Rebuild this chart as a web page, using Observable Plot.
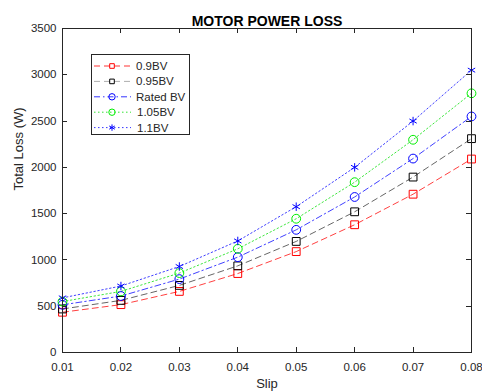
<!DOCTYPE html>
<html>
<head>
<meta charset="utf-8">
<script src="https://cdn.jsdelivr.net/npm/d3@7"></script>
<script src="https://cdn.jsdelivr.net/npm/@observablehq/plot@0.6"></script>
<style>
  html, body { margin: 0; padding: 0; background: white; }
  #chart { width: 482px; height: 392px; }
</style>
</head>
<body>
<div id="chart"></div>
<script>
const slip = [0.01, 0.02, 0.03, 0.04, 0.05, 0.06, 0.07, 0.08];
const loss09 = [435, 517, 660, 853, 1090, 1380, 1710, 2090];
const loss095 = [470, 563, 725, 936, 1200, 1520, 1895, 2310];
const lossRated = [515, 610, 793, 1030, 1325, 1680, 2095, 2550];
const loss105 = [550, 660, 858, 1120, 1445, 1840, 2298, 2800];
const loss11 = [590, 718, 929, 1205, 1575, 2000, 2500, 3050];
const seriesNames = ["0.9BV", "0.95BV", "Rated BV", "1.05BV", "1.1BV"];
const xTicks = [0.01, 0.02, 0.03, 0.04, 0.05, 0.06, 0.07, 0.08];
const yTicks = [0, 500, 1000, 1500, 2000, 2500, 3000, 3500];

const styles = [
  {line: "#ff0000", marker: "#ff0000", dash: "6,4", symbol: "square"},
  {line: "#333333", marker: "#000000", dash: "6,4", symbol: "square"},
  {line: "#0000ff", marker: "#0000ff", dash: "6,3,1.5,3", symbol: "circle"},
  {line: "#00dd00", marker: "#00ee00", dash: "1.5,2.5", symbol: "circle"},
  {line: "#0000ff", marker: "#0000ff", dash: "1.5,2.5", symbol: "asterisk"}
];
const allSeries = [loss09, loss095, lossRated, loss105, loss11];
const rows = allSeries.map((vals, i) => slip.map((s, j) => ({slip: s, loss: vals[j], series: seriesNames[i]})));

const ink = "#262626";
const marks = [];
rows.forEach((data, i) => {
  const st = styles[i];
  marks.push(Plot.line(data, {x: "slip", y: "loss", stroke: st.line, strokeWidth: 1, strokeOpacity: 0.75, strokeDasharray: st.dash}));
});
rows.forEach((data, i) => {
  const st = styles[i];
  marks.push(Plot.dot(data, {x: "slip", y: "loss", symbol: () => st.symbol, stroke: st.marker, fill: "none", strokeWidth: 1, r: st.symbol === "asterisk" ? 4 : 4.4}));
});

const chart = Plot.plot({
  width: 482,
  height: 392,
  marginLeft: 62,
  marginRight: 11,
  marginTop: 28,
  marginBottom: 40,
  style: {fontFamily: "'Liberation Sans', Arial, sans-serif", fontSize: "11.5px", color: ink, background: "white"},
  x: {domain: [0.01, 0.08], ticks: xTicks},
  y: {domain: [0, 3500], ticks: yTicks},
  symbol: {type: "identity"},
  marks: [
    Plot.axisX({ticks: xTicks, tickSize: 0, tickPadding: 10, tickFormat: d => d.toFixed(2), label: null, fill: ink}),
    Plot.axisY({ticks: yTicks, tickSize: 0, tickPadding: 6, tickFormat: d => String(d), label: null, fill: ink}),
    ...marks,
    Plot.frame({stroke: ink, strokeWidth: 1}),
    Plot.text(["MOTOR POWER LOSS"], {frameAnchor: "top", dy: -3, lineAnchor: "bottom", fontWeight: "bold", fontSize: 14, fill: "#000"}),
    Plot.text(["Slip"], {frameAnchor: "bottom", dy: 31, lineAnchor: "middle", fontSize: 13, fill: ink}),
    Plot.text(["Total Loss (W)"], {frameAnchor: "left", dx: -44, rotate: -90, fontSize: 13, fill: ink})
  ]
});

const svg = d3.select(chart);
const xs = chart.scale("x"), ys = chart.scale("y");
const x0 = xs.range[0], x1 = xs.range[1];
const y0 = ys.range[0], y1 = ys.range[1];
const tg = svg.append("g").attr("stroke", ink).attr("stroke-width", 1);
xTicks.forEach(t => {
  const px = Math.round(xs.apply(t)) + 0.5;
  tg.append("line").attr("x1", px).attr("x2", px).attr("y1", y0).attr("y2", y0 - 5);
  tg.append("line").attr("x1", px).attr("x2", px).attr("y1", y1).attr("y2", y1 + 5);
});
yTicks.forEach(t => {
  const py = Math.round(ys.apply(t)) + 0.5;
  tg.append("line").attr("x1", x0).attr("x2", x0 + 5).attr("y1", py).attr("y2", py);
  tg.append("line").attr("x1", x1).attr("x2", x1 - 5).attr("y1", py).attr("y2", py);
});

// Legend inside the SVG
const lg = svg.append("g").attr("font-family", "'Liberation Sans', Arial, sans-serif").attr("font-size", "11.5px").attr("text-anchor", "start");
const lx = 91, ly = 54, lw = 98, lh = 80;
lg.append("rect").attr("x", lx + 0.5).attr("y", ly + 0.5).attr("width", lw).attr("height", lh)
  .attr("fill", "white").attr("stroke", ink).attr("stroke-width", 1);
const symMap = {square: d3.symbolSquare, circle: d3.symbolCircle, asterisk: d3.symbolAsterisk};
seriesNames.forEach((name, i) => {
  const st = styles[i];
  const cy = ly + 12 + i * 15.4;
  lg.append("line").attr("x1", lx + 3).attr("x2", lx + 40).attr("y1", cy).attr("y2", cy)
    .attr("stroke", i === 1 ? "#999" : st.line).attr("stroke-width", 1).attr("stroke-opacity", 0.8)
    .attr("stroke-dasharray", st.dash);
  const r = st.symbol === "asterisk" ? 3 : (i < 2 ? 2.6 : 3.2);
  lg.append("path").attr("transform", `translate(${lx + 21},${cy})`)
    .attr("d", d3.symbol(symMap[st.symbol], Math.PI * r * r)())
    .attr("fill", i < 2 ? "white" : "none").attr("stroke", st.marker).attr("stroke-width", 1);
  lg.append("text").attr("x", lx + (i >= 3 ? 46 : 45)).attr("y", cy).attr("dy", "0.35em")
    .attr("fill", ink).text(name);
});

document.getElementById("chart").appendChild(chart);
</script>
</body>
</html>
